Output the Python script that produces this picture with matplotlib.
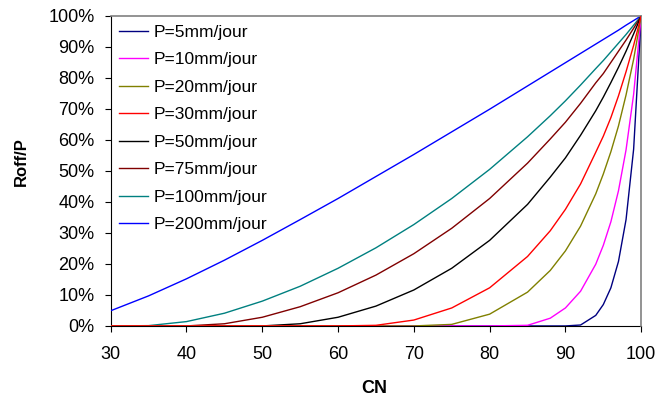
import numpy as np
import matplotlib
matplotlib.use("Agg")
import matplotlib.pyplot as plt

plt.rcParams['font.family'] = ['Liberation Sans', 'DejaVu Sans']

# CN values where the curves were read
cn = [30, 35, 40, 45, 50, 55, 60, 65, 70, 75, 80, 85, 88, 90, 92, 94, 95, 96, 97, 98, 99, 100]

# Roff/P (fraction), one list per curve, label as in the legend
p5 = [0, 0, 0, 0, 0, 0, 0, 0, 0, 0, 0, 0, 0, 0, 0.003, 0.034, 0.069, 0.123, 0.208, 0.343, 0.57, 1.0]
p10 = [0, 0, 0, 0, 0, 0, 0, 0, 0, 0, 0, 0.002, 0.025, 0.058, 0.112, 0.199, 0.26, 0.336, 0.436, 0.568, 0.747, 1.0]
p20 = [0, 0, 0, 0, 0, 0, 0, 0, 0, 0.005, 0.038, 0.109, 0.179, 0.242, 0.322, 0.426, 0.49, 0.562, 0.645, 0.745, 0.86, 1.0]
p30 = [0, 0, 0, 0, 0, 0, 0, 0.002, 0.019, 0.058, 0.123, 0.224, 0.307, 0.376, 0.458, 0.56, 0.612, 0.672, 0.742, 0.82, 0.905, 1.0]
p50 = [0, 0, 0, 0, 0, 0.007, 0.028, 0.064, 0.116, 0.186, 0.276, 0.392, 0.48, 0.542, 0.615, 0.694, 0.738, 0.785, 0.834, 0.886, 0.942, 1.0]
p75 = [0, 0, 0, 0.007, 0.028, 0.062, 0.107, 0.164, 0.233, 0.315, 0.411, 0.525, 0.603, 0.657, 0.718, 0.784, 0.814, 0.85, 0.886, 0.922, 0.96, 1.0]
p100 = [0, 0.001, 0.014, 0.041, 0.08, 0.128, 0.186, 0.252, 0.327, 0.411, 0.505, 0.61, 0.678, 0.726, 0.777, 0.83, 0.856, 0.884, 0.912, 0.94, 0.97, 1.0]
p200 = [0.049, 0.097, 0.152, 0.212, 0.276, 0.343, 0.411, 0.482, 0.553, 0.626, 0.699, 0.774, 0.819, 0.849, 0.879, 0.909, 0.924, 0.939, 0.954, 0.97, 0.985, 1.0]

labels = ['P=5mm/jour', 'P=10mm/jour', 'P=20mm/jour', 'P=30mm/jour',
          'P=50mm/jour', 'P=75mm/jour', 'P=100mm/jour', 'P=200mm/jour']
series = [p5, p10, p20, p30, p50, p75, p100, p200]
colors = ['#000080', '#FF00FF', '#808000', '#FF0000', '#000000', '#800000', '#008080', '#0000FF']
zorders = [3.1, 3.2, 3.3, 3.4, 2.4, 2.3, 2.2, 2.1]

fig = plt.figure(figsize=(6.59, 3.97), dpi=100)
ax = fig.add_axes([0.168, 0.179, 0.805, 0.781])

handles = []
for vals, lab, col, z in zip(series, labels, colors, zorders):
    ln, = ax.plot(cn, np.array(vals) * 100, color=col, lw=1.0, label=lab, zorder=z)
    handles.append(ln)

ax.set_xlim(30, 100)
ax.set_ylim(0, 100)
ax.set_xticks(range(30, 101, 10))
ax.set_yticks(range(0, 101, 10))
ax.set_yticklabels(['%d%%' % v for v in range(0, 101, 10)])
ax.tick_params(axis='both', labelsize=13, length=4.3, width=0.8, color='black')
ax.tick_params(axis='x', pad=10.0)
ax.tick_params(axis='y', pad=7.4)

for s in ['left', 'bottom']:
    ax.spines[s].set_color('black')
    ax.spines[s].set_linewidth(0.8)
    ax.spines[s].set_zorder(1)
for s in ['top', 'right']:
    ax.spines[s].set_color('#808080')
    ax.spines[s].set_linewidth(1.2)

ax.set_xlabel('CN', fontsize=13, fontweight='bold', va='center')
ax.xaxis.set_label_coords(0.497, -0.203)
ax.set_ylabel('Roff/P', fontsize=12, fontweight='bold', va='center')
ax.yaxis.set_label_coords(-0.1675, 0.53)

ax.legend(handles=handles, loc='upper left', bbox_to_anchor=(0.0155, 0.972),
          frameon=False, fontsize=12.5, borderpad=0, handlelength=1.67,
          handletextpad=0.3, labelspacing=0.71, borderaxespad=0)

fig.savefig('out.png', dpi=100)
